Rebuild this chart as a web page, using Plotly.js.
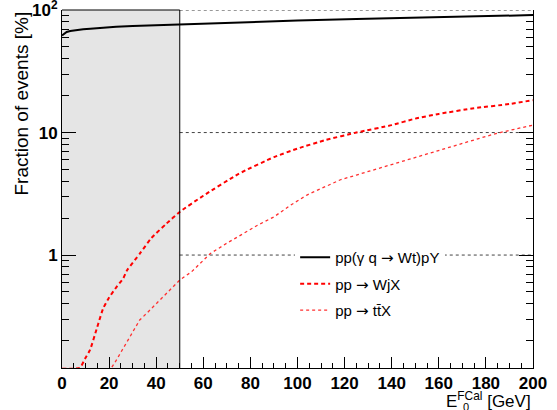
<!DOCTYPE html>
<html>
<head>
<meta charset="utf-8">
<script src="https://cdn.plot.ly/plotly-3.0.1.min.js"></script>
<style>html,body{margin:0;padding:0;background:#fff;}#plot{width:557px;height:410px;}</style>
</head>
<body>
<div id="plot"></div>
<script>
// Data (x in GeV, y in %)
const wtX = [0, 1, 2, 3.5, 5, 7, 9, 12, 15, 19, 23, 30, 40, 50, 75, 100, 125, 150, 175, 200];
const wtY = [62, 64.5, 66.3, 67.5, 68.3, 69, 69.6, 70.5, 71.4, 72.3, 73.1, 74.2, 75.4, 76.5, 79.5, 82, 84.5, 87, 89, 91];

const wjX = [0, 4, 7.6, 10, 11.9, 15, 17.5, 20, 23.2, 26, 27.7, 33.1, 38, 44.4, 50, 60, 75, 90, 100, 112, 125, 140, 150, 160, 175, 190, 200];
const wjY = [0.118, 0.118, 0.12, 0.145, 0.168, 0.26, 0.367, 0.45, 0.55, 0.645, 0.755, 1.03, 1.38, 1.81, 2.25, 3.05, 4.6, 6.3, 7.4, 8.7, 10, 11.5, 13.0, 14.2, 15.8, 17.1, 18.4];

const ttX = [20, 21, 23, 26, 30, 33, 36, 40, 45, 50, 55, 63, 70, 76, 83, 90, 97, 104, 111, 118, 125, 132, 139, 146, 153, 160, 167, 175, 180, 186, 193, 200];
const ttY = [0.11, 0.12, 0.138, 0.173, 0.233, 0.295, 0.335, 0.40, 0.5, 0.625, 0.73, 1.03, 1.25, 1.46, 1.75, 2.05, 2.55, 3.09, 3.55, 4.1, 4.5, 4.94, 5.45, 5.97, 6.55, 7.2, 7.9, 8.7, 9.3, 10, 10.7, 11.5];

const ARROW = '<span style="font-family:DejaVu Sans">\u2192</span>';
const seriesNames = ['pp(\u03b3 q ' + ARROW + ' Wt)pY', 'pp ' + ARROW + ' WjX', 'pp ' + ARROW + ' tt\u0304X'];

const yTickVals = [1, 10, 100];
const yTickText = ['1', '10', '10<sup>2</sup>'];

const cutX = 50;          // shaded/cut region edge
const refLevels = [1, 10, 100];
const xRange = [0, 200];
const yRange = [-0.922, 2.0005];

const FONT = 'Liberation Sans, Arial, Helvetica, sans-serif';

const traces = [
  {x: wtX, y: wtY, name: seriesNames[0], mode: 'lines', legendgroup: 'a',
   line: {color: 'black', width: 2}},
  {x: wjX, y: wjY, name: seriesNames[1], mode: 'lines', legendgroup: 'b',
   line: {color: '#ff0000', width: 2, dash: '4px,3px', shape: 'spline', smoothing: 0.5}},
  {x: ttX, y: ttY, name: seriesNames[2], mode: 'lines', legendgroup: 'c',
   line: {color: '#ff3030', width: 1.3, dash: 'dot'}}
];

const shapes = [
  // semi-transparent grey over white paper gives #e5e5e5 and lets ticks show through
  {type: 'rect', xref: 'x', yref: 'paper', x0: 0, x1: cutX, y0: 0, y1: 1,
   fillcolor: 'rgba(0,0,0,0.102)', line: {width: 0}, layer: 'below'},
  {type: 'line', xref: 'x', yref: 'paper', x0: cutX, x1: cutX, y0: 0, y1: 1,
   line: {color: 'black', width: 1}},
  {type: 'line', xref: 'x', yref: 'paper', x0: 0, x1: cutX, y0: 1, y1: 1,
   line: {color: 'black', width: 1}}
];
refLevels.forEach(v => shapes.push({type: 'line', xref: 'x', yref: 'y', x0: cutX, x1: 200, y0: v, y1: v,
  line: {color: '#444', width: 1, dash: 'dot'}, layer: 'below'}));

function minorTicks(opts, len) {
  return Object.assign({ticks: 'inside', ticklen: len, tickwidth: 1, tickcolor: 'black', showgrid: false}, opts);
}

const layout = {
  width: 557, height: 410,
  margin: {l: 62, r: 24, t: 10, b: 42},
  paper_bgcolor: 'white', plot_bgcolor: 'rgba(0,0,0,0)',
  font: {family: FONT, color: 'black'},
  showlegend: true,
  legend: {x: 0.495, y: 0.355, xanchor: 'left', yanchor: 'top', bgcolor: 'white',
    borderwidth: 0, font: {size: 15, family: FONT, color: 'black'},
    tracegroupgap: 4, itemwidth: 30, traceorder: 'grouped'},
  xaxis: {range: xRange, showgrid: false, zeroline: false, showline: true, linecolor: 'black', linewidth: 1,
    ticks: 'inside', ticklen: 11, tickwidth: 1, tickcolor: 'black', dtick: 20, tick0: 0,
    minor: minorTicks({dtick: 5, tick0: 0}, 5),
    tickfont: {size: 17, family: FONT, weight: 'bold'}},
  yaxis: {type: 'log', range: yRange, showgrid: false, zeroline: false, showline: true,
    linecolor: 'black', linewidth: 1, mirror: 'allticks', ticks: 'inside', ticklen: 14, tickwidth: 1,
    tickcolor: 'black', tickmode: 'array', tickvals: yTickVals, ticktext: yTickText,
    ticklabeloverflow: 'allow', minor: minorTicks({dtick: 'D1'}, 7),
    tickfont: {size: 17, family: FONT, weight: 'bold'}},
  shapes: shapes,
  annotations: [
    {xref: 'paper', yref: 'paper', x: -0.088, y: 1.0, xanchor: 'center', yanchor: 'top',
     text: 'Fraction of events [%]', textangle: -90, showarrow: false,
     font: {size: 19, family: FONT}},
    {xref: 'paper', yref: 'paper', x: 1.0, y: -0.125, xanchor: 'right', yanchor: 'bottom',
     text: 'E<sup>FCal</sup> [GeV]', showarrow: false, font: {size: 17, family: FONT}},
    {xref: 'paper', yref: 'paper', x: 0.8475, y: -0.132, xanchor: 'left', yanchor: 'bottom',
     text: '0', showarrow: false, font: {size: 11, family: FONT}}
  ]
};

Plotly.newPlot('plot', traces, layout, {displayModeBar: false, staticPlot: true});
</script>
</body>
</html>
